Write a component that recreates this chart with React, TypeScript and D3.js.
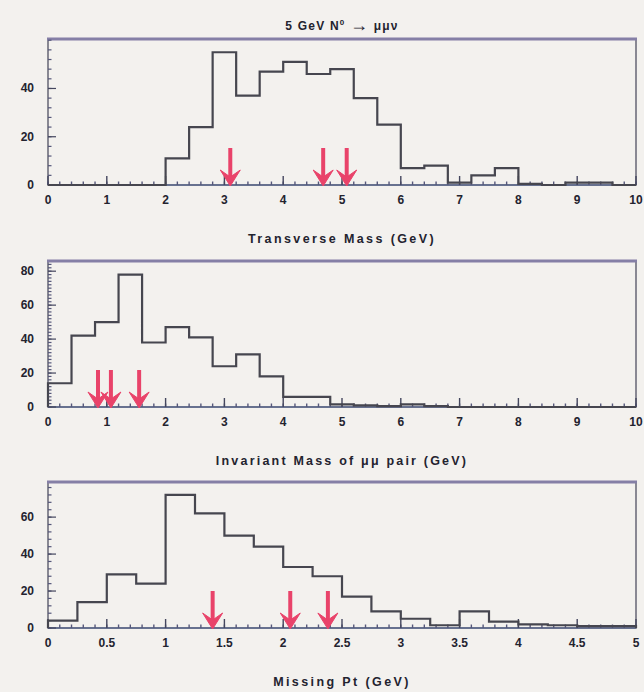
import React from "react";
import * as d3 from "d3";

// ---------- data ----------
const tmEdgesStep = 0.4;
const transverseMass = [0, 0, 0, 0, 0, 11, 24, 55, 37, 47, 51, 46, 48, 36, 25, 7, 8, 1, 4, 7, 0.5, 0, 1, 1, 0];
const tmArrows = [3.1, 4.68, 5.08];

const imEdgesStep = 0.4;
const invariantMass = [14, 42, 50, 78, 38, 47, 41, 24, 31, 18, 6, 6, 1.5, 1, 0.5, 1.5, 0.5, 0, 0, 0, 0, 0, 0, 0, 0];
const imArrows = [0.85, 1.07, 1.55];

const ptEdgesStep = 0.25;
const missingPt = [4, 14, 29, 24, 72, 62, 50, 44, 33, 28, 17, 9, 5, 1.5, 9, 3.5, 2, 1.5, 1, 1];
const ptArrows = [1.4, 2.06, 2.38];

const tmXTicks = ["0", "1", "2", "3", "4", "5", "6", "7", "8", "9", "10"];
const ptXTicks = ["0", "0.5", "1", "1.5", "2", "2.5", "3", "3.5", "4", "4.5", "5"];

// ---------- layout ----------
const W = 644, H = 692;
const X0 = 48, X1 = 636;
const PH = 146;
const INK = "#23232f";
const LINE = "#46464f";
const RED = "#e9436a";
const FONT = "'Liberation Sans', Arial, Helvetica, sans-serif";

type PanelProps = {
  top: number;
  values: number[];
  step: number;
  xmax: number;
  ymax: number;
  xTicks: string[];
  xMajor: number;
  xMinor: number;
  yLabels: number[];
  yMinor: number;
  arrows: number[];
  xlabel: React.ReactNode;
  labelSpacing: number;
};

function Panel(p: PanelProps) {
  const x = d3.scaleLinear().domain([0, p.xmax]).range([X0, X1]);
  const y = d3.scaleLinear().domain([0, p.ymax]).range([p.top + PH, p.top]);
  const base = y(0);

  const pts: [number, number][] = [[0, 0]];
  p.values.forEach((v, i) => {
    pts.push([i * p.step, v]);
    pts.push([(i + 1) * p.step, v]);
  });
  pts.push([p.values.length * p.step, 0]);
  const line = d3.line<[number, number]>().x((d) => x(d[0])).y((d) => y(d[1]));

  const xMinorTicks = d3.range(0, p.xmax + 1e-9, p.xMinor);
  const xMajorTicks = d3.range(0, p.xmax + 1e-9, p.xMajor);
  const yMinorTicks = d3.range(0, p.ymax, p.yMinor);

  return (
    <g>
      {/* frame */}
      <rect x={X0} y={p.top} width={X1 - X0} height={PH} fill="none" stroke="#6e6e7c" strokeWidth={1.6} />
      <line x1={X0 - 1} x2={X1 + 1} y1={p.top} y2={p.top} stroke="#857fa6" strokeWidth={3} />
      <line x1={X0} x2={X1} y1={base} y2={base} stroke="#5d6a8e" strokeWidth={1.6} />
      {/* x ticks */}
      {xMinorTicks.map((t, i) => (
        <line key={"xm" + i} x1={x(t)} x2={x(t)} y1={base} y2={base - 3.5} stroke="#55577a" strokeWidth={1.4} />
      ))}
      {xMajorTicks.map((t, i) => (
        <line key={"xM" + i} x1={x(t)} x2={x(t)} y1={base} y2={base - 9} stroke="#44465e" strokeWidth={1.4} />
      ))}
      {/* y ticks */}
      {yMinorTicks.map((t, i) => (
        <line key={"ym" + i} x1={X0} x2={X0 + 3.5} y1={y(t)} y2={y(t)} stroke="#55577a" strokeWidth={1.2} />
      ))}
      {p.yLabels.map((t, i) => (
        <line key={"yM" + i} x1={X0} x2={X0 + 8} y1={y(t)} y2={y(t)} stroke="#44465e" strokeWidth={1.2} />
      ))}
      {/* histogram */}
      <path d={line(pts) || ""} fill="none" stroke={LINE} strokeWidth={2.2} strokeLinejoin="miter" />
      {/* arrows */}
      {p.arrows.map((a, i) => (
        <g key={"ar" + i} fill={RED} stroke={RED}>
          <line x1={x(a)} x2={x(a)} y1={base - 37} y2={base - 6} strokeWidth={4} />
          <path
            d={`M${x(a) - 10},${base - 15} L${x(a)},${base + 1} L${x(a) + 10},${base - 15} L${x(a)},${base - 8} Z`}
            strokeWidth={1}
          />
        </g>
      ))}
      {/* x tick labels */}
      {p.xTicks.map((t, i) => (
        <text
          key={"xl" + i}
          x={x(i * p.xMajor)}
          y={base + 19}
          textAnchor="middle"
          fontFamily={FONT}
          fontWeight="bold"
          fontSize={12}
          fill={INK}
        >
          {t}
        </text>
      ))}
      {/* y tick labels */}
      {p.yLabels.map((t, i) => (
        <text
          key={"yl" + i}
          x={34}
          y={y(t) + 4}
          textAnchor="end"
          fontFamily={FONT}
          fontWeight="bold"
          fontSize={12}
          fill={INK}
        >
          {t}
        </text>
      ))}
      {/* x axis label */}
      <text
        x={(X0 + X1) / 2}
        y={base + 58}
        textAnchor="middle"
        fontFamily={FONT}
        fontWeight="bold"
        fontSize={12.5}
        letterSpacing={p.labelSpacing}
        fill={INK}
      >
        {p.xlabel}
      </text>
    </g>
  );
}

export default function App() {
  return (
    <svg width={W} height={H} style={{ position: "absolute", left: 0, top: 0 }}>
      <rect width={W} height={H} fill="#f3f1ee" />
      <text
        x={(X0 + X1) / 2}
        y={30}
        textAnchor="middle"
        fontFamily={FONT}
        fontWeight="bold"
        fontSize={12}
        letterSpacing={1.2}
        fill={INK}
      >
        <tspan>5 GeV   N</tspan>
        <tspan fontSize={8} dy={-5}>0</tspan>
        <tspan dy={5}> </tspan>
        <tspan fontSize={18} dy={1}>{"\u2192"}</tspan>
        <tspan dy={-1}> {"\u03bc\u03bc\u03bd"}</tspan>
      </text>
      <Panel
        top={39}
        values={transverseMass}
        step={tmEdgesStep}
        xmax={10}
        ymax={60.5}
        xTicks={tmXTicks}
        xMajor={1}
        xMinor={0.2}
        yLabels={[0, 20, 40]}
        yMinor={4}
        arrows={tmArrows}
        xlabel="Transverse Mass (GeV)"
        labelSpacing={2.4}
      />
      <Panel
        top={261}
        values={invariantMass}
        step={imEdgesStep}
        xmax={10}
        ymax={86}
        xTicks={tmXTicks}
        xMajor={1}
        xMinor={0.2}
        yLabels={[0, 20, 40, 60, 80]}
        yMinor={2}
        arrows={imArrows}
        xlabel="Invariant Mass of μμ pair (GeV)"
        labelSpacing={2.2}
      />
      <Panel
        top={482}
        values={missingPt}
        step={ptEdgesStep}
        xmax={5}
        ymax={79}
        xTicks={ptXTicks}
        xMajor={0.5}
        xMinor={0.1}
        yLabels={[0, 20, 40, 60]}
        yMinor={4}
        arrows={ptArrows}
        xlabel="Missing Pt (GeV)"
        labelSpacing={2.4}
      />
    </svg>
  );
}
